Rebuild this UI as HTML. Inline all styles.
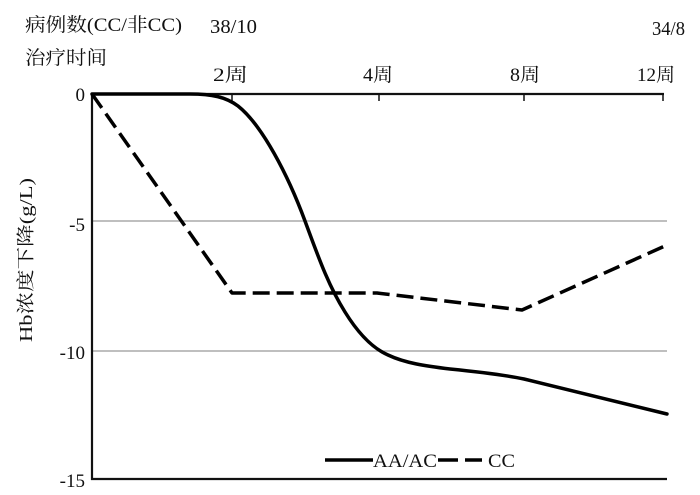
<!DOCTYPE html>
<html>
<head>
<meta charset="utf-8">
<style>
  html, body { margin: 0; padding: 0; background: #fff; }
  svg { display: block; }
  text { font-family: "Liberation Serif", "Noto Serif CJK SC", serif; fill: #111; }
</style>
</head>
<body>
<svg width="700" height="495" viewBox="0 0 700 495" xmlns="http://www.w3.org/2000/svg">
  <rect width="700" height="495" fill="#fff"/>

  <!-- header texts -->
  <text x="25" y="31" font-size="19" textLength="157" lengthAdjust="spacingAndGlyphs">病例数(CC/非CC)</text>
  <text x="210" y="33" font-size="20" textLength="47" lengthAdjust="spacingAndGlyphs">38/10</text>
  <text x="652" y="35" font-size="20" textLength="33" lengthAdjust="spacingAndGlyphs">34/8</text>
  <text x="25" y="64" font-size="19" textLength="82" lengthAdjust="spacingAndGlyphs">治疗时间</text>

  <!-- week labels -->
  <text x="213" y="81" font-size="19" textLength="35" lengthAdjust="spacingAndGlyphs">2周</text>
  <text x="363" y="81" font-size="19" textLength="30" lengthAdjust="spacingAndGlyphs">4周</text>
  <text x="510" y="81" font-size="19" textLength="30" lengthAdjust="spacingAndGlyphs">8周</text>
  <text x="637" y="81" font-size="19" textLength="38" lengthAdjust="spacingAndGlyphs">12周</text>

  <!-- gridlines -->
  <line x1="92" y1="221" x2="667" y2="221" stroke="#999" stroke-width="1.2"/>
  <line x1="92" y1="351" x2="667" y2="351" stroke="#999" stroke-width="1.2"/>

  <!-- axes -->
  <line x1="91" y1="94" x2="664" y2="94" stroke="#111" stroke-width="2.2"/>
  <line x1="92" y1="93" x2="92" y2="480" stroke="#111" stroke-width="2.2"/>
  <line x1="91" y1="479" x2="667" y2="479" stroke="#111" stroke-width="2.2"/>
  <!-- top ticks -->
  <line x1="232" y1="94" x2="232" y2="101" stroke="#111" stroke-width="1.5"/>
  <line x1="379" y1="94" x2="379" y2="101" stroke="#111" stroke-width="1.5"/>
  <line x1="524" y1="94" x2="524" y2="101" stroke="#111" stroke-width="1.5"/>
  <line x1="663" y1="94" x2="663" y2="101" stroke="#111" stroke-width="1.5"/>

  <!-- y tick labels -->
  <text x="85" y="101" font-size="19" text-anchor="end">0</text>
  <text x="85" y="231" font-size="19" text-anchor="end">-5</text>
  <text x="85" y="359" font-size="19" text-anchor="end">-10</text>
  <text x="85" y="487" font-size="19" text-anchor="end">-15</text>

  <!-- y axis label -->
  <text transform="translate(32,260) rotate(-90)" font-size="18" text-anchor="middle" textLength="164" lengthAdjust="spacingAndGlyphs">Hb浓度下降(g/L)</text>

  <!-- CC dashed series -->
  <path d="M92,94 L232,293 L377,293 L522,310 L667,245" fill="none" stroke="#000" stroke-width="3.5" stroke-dasharray="17 7" stroke-linejoin="round"/>

  <!-- AA/AC solid series -->
  <path d="M92,94 L190,94 C212,94 226,97 238,106 C262,125 288,175 305,221 C318,256 328,285 345,312 C358,333 372,348 388,355 C405,363 425,366 450,369 C480,372 505,375 524,379 L667,414" fill="none" stroke="#000" stroke-width="3.5" stroke-linejoin="round" stroke-linecap="round"/>

  <!-- legend -->
  <line x1="325" y1="460" x2="373" y2="460" stroke="#000" stroke-width="3.5"/>
  <text x="373" y="467" font-size="19" textLength="64" lengthAdjust="spacingAndGlyphs">AA/AC</text>
  <line x1="438" y1="460" x2="458" y2="460" stroke="#000" stroke-width="3.5"/>
  <line x1="465" y1="460" x2="482" y2="460" stroke="#000" stroke-width="3.5"/>
  <text x="488" y="467" font-size="19" textLength="27" lengthAdjust="spacingAndGlyphs">CC</text>
</svg>
</body>
</html>
